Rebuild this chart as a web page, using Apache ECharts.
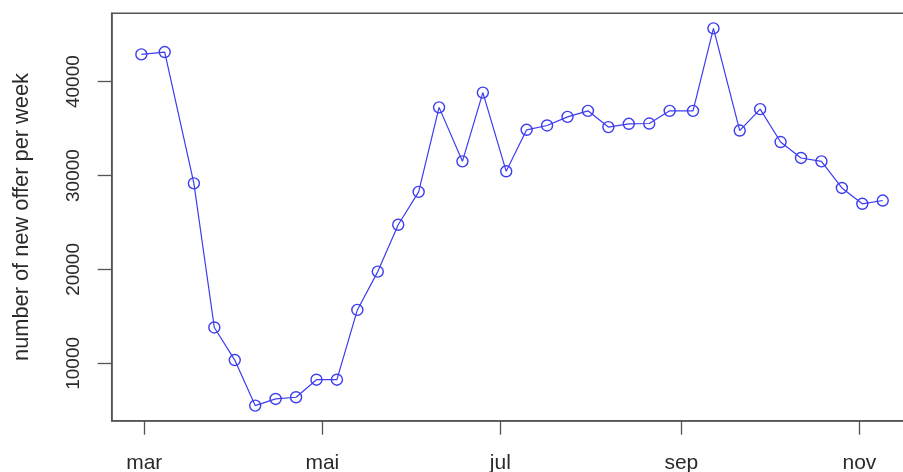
<!DOCTYPE html>
<html>
<head>
<meta charset="utf-8">
<script src="https://cdn.jsdelivr.net/npm/echarts@6/dist/echarts.min.js"></script>
<style>
  html, body { margin: 0; padding: 0; background: #fff; }
  #chart { width: 903px; height: 472px; }
</style>
</head>
<body>
<div id="chart"></div>
<script>
// Weekly count of new offers (2020)
const weekDates = [
  '2020-02-29','2020-03-08','2020-03-18','2020-03-25','2020-04-01','2020-04-08',
  '2020-04-15','2020-04-22','2020-04-29','2020-05-06','2020-05-13','2020-05-20',
  '2020-05-27','2020-06-03','2020-06-10','2020-06-18','2020-06-25','2020-07-03',
  '2020-07-10','2020-07-17','2020-07-24','2020-07-31','2020-08-07','2020-08-14',
  '2020-08-21','2020-08-28','2020-09-05','2020-09-12','2020-09-21','2020-09-28',
  '2020-10-05','2020-10-12','2020-10-19','2020-10-26','2020-11-02','2020-11-09'
];
const newOffers = [
  42900, 43150, 29170, 13820, 10350, 5500,
  6210, 6390, 8260, 8260, 15690, 19770,
  24760, 28260, 37260, 31510, 38830, 30450,
  34870, 35330, 36250, 36890, 35160, 35510,
  35540, 36890, 36890, 45670, 34790, 37070,
  33570, 31870, 31510, 28680, 26990, 27340
];
const monthTicks = ['2020-03-01','2020-05-01','2020-07-01','2020-09-01','2020-11-01'];
const monthNames = ['jan','feb','mar','apr','mai','jun','jul','aug','sep','okt','nov','dez'];
const yTicks = [10000, 20000, 30000, 40000];

const toTime = s => { const p = s.split('-').map(Number); return Date.UTC(p[0], p[1] - 1, p[2]); };
const times = weekDates.map(toTime);
const seriesData = times.map((t, i) => [t, newOffers[i]]);

// axis ranges padded by 4% on each side
const tMin = Math.min(...times), tMax = Math.max(...times);
const vMin = Math.min(...newOffers), vMax = Math.max(...newOffers);
const tPad = (tMax - tMin) * 0.04, vPad = (vMax - vMin) * 0.04;

const textColor = '#2a2a2a';
const lineBlue = '#3c3cf0';
const font = "'Liberation Sans', Arial, Helvetica, sans-serif";

const chart = echarts.init(document.getElementById('chart'));
chart.setOption({
  animation: false,
  backgroundColor: '#ffffff',
  grid: {
    left: 111.7, top: 13.3, width: 800.7, height: 407.4,
    outerBoundsMode: 'none', containLabel: false,
    show: true, borderColor: '#555555', borderWidth: 1.5, backgroundColor: 'transparent'
  },
  xAxis: {
    type: 'value',
    min: tMin - tPad, max: tMax + tPad,
    splitLine: { show: false },
    axisLine: { show: true, onZero: false, lineStyle: { color: '#555555', width: 1.5 } },
    axisTick: { show: true, length: 14, customValues: monthTicks.map(toTime),
      lineStyle: { color: '#555555', width: 1.3 } },
    axisLabel: {
      customValues: monthTicks.map(toTime),
      formatter: v => monthNames[new Date(v).getUTCMonth()],
      color: textColor, fontSize: 21, fontFamily: font, margin: 32
    }
  },
  yAxis: {
    type: 'value',
    min: vMin - vPad, max: vMax + vPad,
    name: 'number of new offer per week',
    nameLocation: 'middle', nameRotate: 90, nameGap: 79,
    nameTextStyle: { color: textColor, fontSize: 21.8, fontFamily: font },
    splitLine: { show: false },
    axisLine: { show: true, onZero: false, lineStyle: { color: '#555555', width: 1.5 } },
    axisTick: { show: true, length: 14, customValues: yTicks,
      lineStyle: { color: '#555555', width: 1.3 } },
    axisLabel: {
      customValues: yTicks, rotate: 90,
      formatter: v => String(Math.round(v)),
      color: textColor, fontSize: 19, fontFamily: font, margin: 28
    }
  },
  series: [{
    type: 'line',
    data: seriesData,
    symbol: 'circle',
    symbolSize: 11,
    lineStyle: { color: lineBlue, width: 1.2 },
    itemStyle: { color: 'rgba(0,0,0,0)', borderColor: lineBlue, borderWidth: 1.4 },
    emphasis: { disabled: true }
  }]
});
</script>
</body>
</html>
